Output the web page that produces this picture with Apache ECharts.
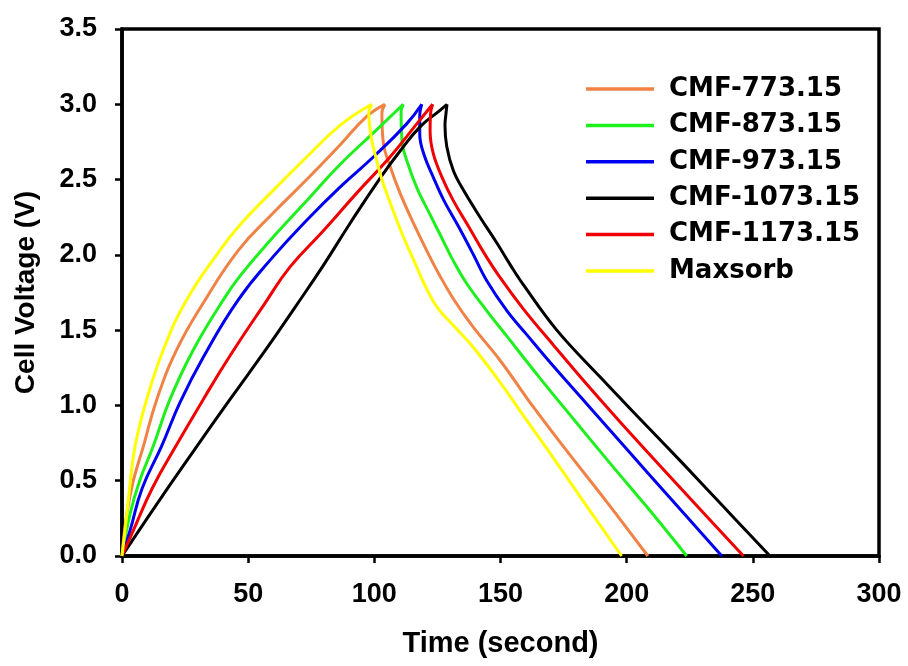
<!DOCTYPE html>
<html>
<head>
<meta charset="utf-8">
<script src="https://cdn.jsdelivr.net/npm/echarts@6/dist/echarts.min.js"></script>
<style>html,body{margin:0;padding:0;background:#fff;}#c{width:908px;height:666px;}</style>
</head>
<body>
<div id="c"></div>
<script>
// Series names (legend order)
const seriesNames = ['CMF-773.15', 'CMF-873.15', 'CMF-973.15', 'CMF-1073.15', 'CMF-1173.15', 'Maxsorb'];
const seriesColors = ['#F08246', '#1EF01E', '#0000F0', '#000000', '#F00000', '#FFFF00'];

// Axis ticks
const xTicks = [0, 50, 100, 150, 200, 250, 300];
const yTicks = [0, 0.5, 1.0, 1.5, 2.0, 2.5, 3.0, 3.5];

// [time (s), voltage (V)] — charge branches
const cmf773Charge = [[0,0],[1.9,0.28],[4.5,0.5],[8.5,0.73],[13.8,1.04],[21.7,1.37],[32.2,1.68],[46.1,2.03],[60,2.28],[73.2,2.50],[86.4,2.73],[97,2.92],[104.2,3.0]];
const cmf873Charge = [[0,0],[3.2,0.28],[7,0.5],[12.4,0.73],[19,1.04],[28.3,1.37],[40.1,1.70],[46.8,1.86],[60,2.12],[73.2,2.36],[86.4,2.60],[99.6,2.81],[111.5,3.0]];
const cmf973Charge = [[0,0],[3.2,0.17],[8,0.45],[15.7,0.73],[23,1.02],[32.2,1.32],[46,1.70],[60,1.99],[73.2,2.23],[86.4,2.45],[99.6,2.65],[112.8,2.87],[118.8,3.0]];
const cmf1073Charge = [[0,0],[14,0.35],[28.9,0.71],[42.8,1.04],[57.4,1.38],[68.5,1.65],[79.8,1.93],[90.4,2.21],[102.3,2.51],[110.2,2.69],[118.1,2.85],[126,2.96],[128.8,3.0]];
const cmf1173Charge = [[0,0],[4.5,0.17],[12,0.45],[21.7,0.74],[32.2,1.04],[42.8,1.33],[56.7,1.68],[66.6,1.92],[79.8,2.16],[93,2.41],[106.2,2.65],[116.8,2.87],[123.1,3.0]];
const maxsorbCharge = [[0,0],[1.2,0.17],[2.8,0.42],[5.2,0.73],[9.8,1.04],[16.4,1.37],[25.6,1.70],[38.8,2.03],[46.8,2.20],[60,2.43],[73.2,2.65],[86.4,2.86],[99,3.0]];

// [time (s), voltage (V)] — discharge branches
const cmf773Discharge = [[104.2,3.0],[103,2.94],[103.6,2.74],[106.2,2.59],[110.2,2.41],[115.5,2.21],[121,2.02],[126,1.86],[132,1.69],[139.2,1.52],[149.8,1.30],[163,0.99],[176.2,0.70],[192.1,0.36],[208.4,0]];
const cmf873Discharge = [[111.5,3.0],[110.6,2.95],[111,2.75],[113.4,2.60],[117,2.44],[122,2.27],[126.5,2.12],[131,1.97],[136.6,1.81],[144.5,1.63],[152.5,1.46],[165.7,1.18],[178.9,0.91],[194.7,0.59],[209.3,0.30],[223.8,0]];
const cmf973Discharge = [[118.8,3.0],[118,2.93],[118,2.80],[119.8,2.66],[123.5,2.51],[127.6,2.36],[133.3,2.19],[139,2.01],[144.5,1.83],[152.5,1.63],[160.4,1.47],[171,1.26],[184.2,1.01],[200,0.71],[215.9,0.41],[237.7,0]];
const cmf1073Discharge = [[128.8,3.0],[128.4,2.94],[128,2.86],[128.7,2.72],[131.3,2.56],[135.3,2.43],[141.9,2.25],[148.5,2.08],[154,1.93],[159.1,1.80],[172.3,1.50],[189.4,1.19],[205.3,0.91],[222.5,0.61],[237.1,0.35],[256.8,0]];
const cmf1173Discharge = [[123.1,3.0],[122.3,2.94],[122.1,2.82],[123.4,2.67],[126.7,2.52],[131.3,2.36],[137.3,2.19],[143.2,2.02],[149.8,1.85],[159.1,1.64],[171,1.40],[184.2,1.14],[197.4,0.89],[213.2,0.60],[229.1,0.31],[246.3,0]];
const maxsorbDischarge = [[99,3.0],[97.8,2.94],[98.8,2.78],[100.9,2.63],[103,2.50],[106.2,2.35],[111,2.14],[116,1.95],[120,1.80],[125,1.65],[132,1.52],[140,1.37],[150,1.15],[160,0.91],[171,0.65],[184.2,0.33],[198,0]];

const chargeData = [cmf773Charge, cmf873Charge, cmf973Charge, cmf1073Charge, cmf1173Charge, maxsorbCharge];
const dischargeData = [cmf773Discharge, cmf873Discharge, cmf973Discharge, cmf1073Discharge, cmf1173Discharge, maxsorbDischarge];

const chart = echarts.init(document.getElementById('c'));
const labelFont = {fontFamily: 'Liberation Sans, Arial, sans-serif', fontWeight: 'bold', fontSize: 27, color: '#000'};

const series = [];
seriesNames.forEach((n, i) => {
  series.push({
    name: n, type: 'line', data: chargeData[i],
    symbol: 'none', smooth: 0.45,
    lineStyle: {color: seriesColors[i], width: 3},
    itemStyle: {color: seriesColors[i]}
  });
  series.push({
    name: n, type: 'line', data: dischargeData[i],
    symbol: 'none', smooth: 0.4,
    lineStyle: {color: seriesColors[i], width: 3},
    itemStyle: {color: seriesColors[i]}
  });
});

chart.setOption({
  animation: false,
  backgroundColor: '#fff',
  grid: {left: 122, right: 29, top: 29, bottom: 110, show: true, borderColor: '#000', borderWidth: 3.5, backgroundColor: 'transparent'},
  legend: {
    orient: 'vertical', left: 586, top: 74, padding: 0,
    data: seriesNames.map((n, i) => ({name: n, itemStyle: {color: seriesColors[i]}})),
    icon: 'rect',
    itemWidth: 68, itemHeight: 3.5, itemGap: 6.4,
    textStyle: {fontFamily: 'DejaVu Sans, sans-serif', fontWeight: 'bold', fontSize: 26, color: '#000', lineHeight: 30, padding: [0,0,0,10]}
  },
  xAxis: {
    type: 'value', min: xTicks[0], max: xTicks[xTicks.length-1], interval: 50,
    name: 'Time (second)', nameLocation: 'middle', nameGap: 73,
    nameTextStyle: {fontFamily: 'Liberation Sans, Arial, sans-serif', fontWeight: 'bold', fontSize: 29, color: '#000'},
    axisLine: {show: true, lineStyle: {color: '#000', width: 3.5}},
    axisTick: {show: true, inside: false, length: 7, lineStyle: {color: '#000', width: 2.5}},
    axisLabel: Object.assign({margin: 25}, labelFont),
    splitLine: {show: false}
  },
  yAxis: {
    type: 'value', min: yTicks[0], max: yTicks[yTicks.length-1], interval: 0.5,
    name: 'Cell Voltage (V)', nameLocation: 'middle', nameGap: 82,
    nameTextStyle: {fontFamily: 'Liberation Sans, Arial, sans-serif', fontWeight: 'bold', fontSize: 28, color: '#000'},
    axisLine: {show: true, lineStyle: {color: '#000', width: 3.5}},
    axisTick: {show: true, inside: false, length: 7, lineStyle: {color: '#000', width: 2.5}},
    axisLabel: Object.assign({margin: 25, formatter: v => v.toFixed(1)}, labelFont),
    splitLine: {show: false}
  },
  series: series
});
</script>
</body>
</html>
